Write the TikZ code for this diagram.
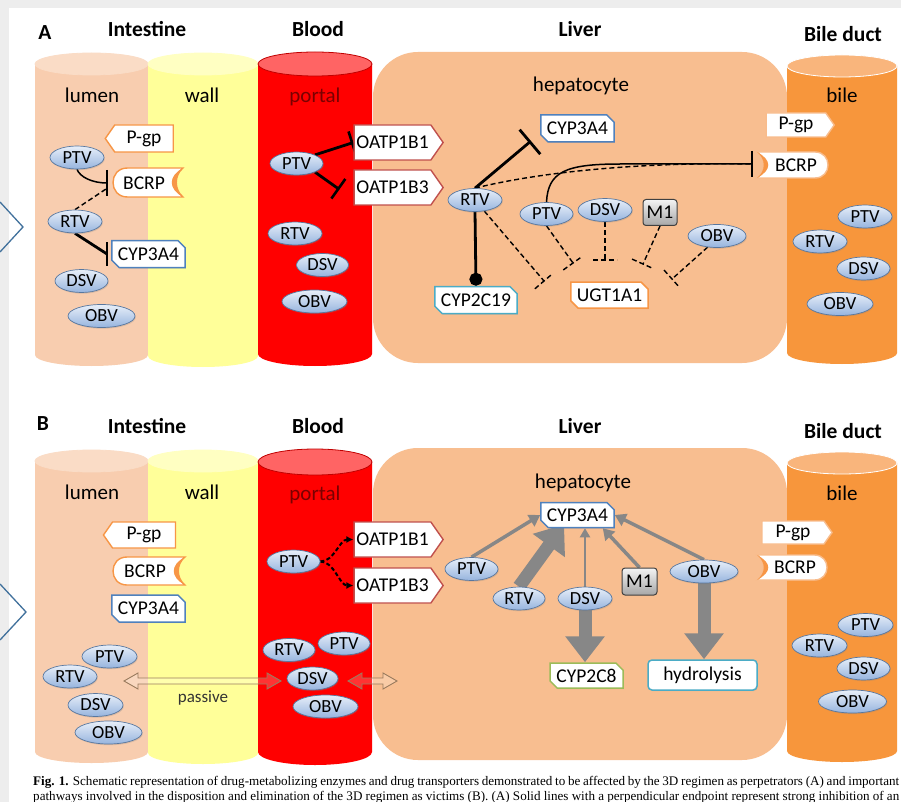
\documentclass[tikz,border=0pt]{standalone}
\usepackage{fontspec}
\setmainfont{Carlito}
\newfontfamily\capfont{Liberation Serif}
\usetikzlibrary{shapes.geometric,shapes.misc,shapes.symbols,arrows.meta,calc,shadows}
\pgfdeclarelayer{back}
\pgfdeclarelayer{links}
\pgfsetlayers{back,links,main}

\definecolor{pagegray}{HTML}{EDEDED}
\definecolor{chevron}{HTML}{41719C}
\definecolor{lumenfill}{HTML}{F8CDAF}
\definecolor{lumentop}{HTML}{FADCC6}
\definecolor{wallfill}{HTML}{FFFF99}
\definecolor{walltop}{HTML}{FFFFC2}
\definecolor{bloodfill}{HTML}{FF0000}
\definecolor{bloodtop}{HTML}{FF6464}
\definecolor{bloodedge}{HTML}{C00000}
\definecolor{liverfill}{HTML}{F8BE90}
\definecolor{bilefill}{HTML}{F7963C}
\definecolor{biletop}{HTML}{F9B57C}
\definecolor{drugtop}{HTML}{E8EFF9}
\definecolor{drugbot}{HTML}{96B4DE}
\definecolor{drugedge}{HTML}{58779F}
\definecolor{cypblue}{HTML}{4F81BD}
\definecolor{cypteal}{HTML}{4BACC6}
\definecolor{cypgreen}{HTML}{9BBB59}
\definecolor{ugtorange}{HTML}{F79646}
\definecolor{oatpred}{HTML}{C0504D}
\definecolor{bileport}{HTML}{F8BC8C}
\definecolor{portaltext}{HTML}{7A0000}
\definecolor{arrowgray}{HTML}{878787}
\definecolor{passivebrown}{HTML}{9A7B5E}
\definecolor{mtop}{HTML}{F4F4F4}
\definecolor{mbot}{HTML}{A6A6A6}
\definecolor{medge}{HTML}{404040}

% cylinder: x-left, x-right, y of top ellipse, y of bottom ellipse, y radius, body, top, top outline
\newcommand\cylinder[8]{%
  \fill[#6] (#1,#3) -- (#1,#4) arc[start angle=180,end angle=0,x radius={(#2-#1)/2},y radius=#5] -- (#2,#3) -- cycle;
  \filldraw[fill=#7,draw=#8,line width=0.8pt] ({(#1+#2)/2},#3) ellipse[x radius={(#2-#1)/2},y radius=#5];
}
% BCRP outline, cup on the right: centre, half width, half height, outline, cup colour
\newcommand\cupright[5]{%
  \filldraw[fill=white,draw=#4,line width=1.4pt]
    ($(#1)+(#2,-#3)$) .. controls +(-9,7) and +(-9,-7) .. ($(#1)+(#2,#3)$)
    -- ($(#1)+({-#2+#3},#3)$) .. controls +({-1.333*#3},0) and +({-1.333*#3},0) .. ($(#1)+({-#2+#3},-#3)$) -- cycle;
  \fill[#5] ($(#1)+(#2,-#3)$) .. controls +(-9,7) and +(-9,-7) .. ($(#1)+(#2,#3)$)
    .. controls +(-15,-8) and +(-15,8) .. cycle;
}
% BCRP outline, cup on the left
\newcommand\cupleft[5]{%
  \filldraw[fill=white,draw=#4,line width=1.4pt]
    ($(#1)+(-#2,-#3)$) .. controls +(9,7) and +(9,-7) .. ($(#1)+(-#2,#3)$)
    -- ($(#1)+({#2-#3},#3)$) .. controls +({1.333*#3},0) and +({1.333*#3},0) .. ($(#1)+({#2-#3},-#3)$) -- cycle;
  \fill[#5] ($(#1)+(-#2,-#3)$) .. controls +(9,7) and +(9,-7) .. ($(#1)+(-#2,#3)$)
    .. controls +(15,-8) and +(15,8) .. cycle;
}
% hollow two-headed arrow between two coordinates on one level
\newcommand\hollowarrow[2]{%
  \draw[passivebrown,line width=0.9pt,fill=white,fill opacity=0.2,line join=miter]
    (#1) -- ++(14,-8) -- ++(0,5) -- ($(#2)+(-14,-3)$) -- ++(0,-5) -- (#2) -- ++(-14,8) -- ++(0,-5)
    -- ($(#1)+(14,3)$) -- ++(0,5) -- cycle;
}
% dashed inhibition bar at #2, across the line coming from #1
\newcommand\dashbar[2]{\draw[dashlink] ($(#2)!12pt!90:(#1)$) -- ($(#2)!12pt!-90:(#1)$);}

\begin{document}
\begin{tikzpicture}[x=1pt,y=-1pt,
  heading/.style={font=\fontsize{21.5}{22}\selectfont\bfseries,inner sep=0pt,text height=14pt,text depth=4pt},
  region/.style={font=\fontsize{21}{22}\selectfont,inner sep=0pt,text height=14pt,text depth=4pt},
  drug/.style={ellipse,draw=drugedge,line width=0.7pt,top color=drugtop,bottom color=drugbot,
    minimum width=54pt,minimum height=23pt,inner sep=0pt,font=\fontsize{18.5}{18.5}\selectfont,
    drop shadow={opacity=0.25,shadow xshift=0.8pt,shadow yshift=-1.2pt}},
  enzyme/.style={chamfered rectangle,chamfered rectangle corners={north east,south west},
    chamfered rectangle xsep=4pt,fill=white,line width=1.5pt,inner xsep=2pt,inner ysep=0pt,
    minimum height=26pt,font=\fontsize{19.5}{19.5}\selectfont,
    drop shadow={opacity=0.2,shadow xshift=0.8pt,shadow yshift=-1pt}},
  roundbox/.style={rectangle,rounded corners=4pt,fill=white,line width=1.5pt,inner sep=0pt,
    font=\fontsize{19.5}{19.5}\selectfont,drop shadow={opacity=0.2,shadow xshift=0.8pt,shadow yshift=-1pt}},
  tport/.style={signal,signal from=nowhere,signal pointer angle=110,fill=white,line width=1.4pt,
    inner xsep=2pt,inner ysep=0pt,font=\fontsize{19.5}{19.5}\selectfont},
  tlabel/.style={inner sep=0pt,font=\fontsize{19.5}{19.5}\selectfont},
  metab/.style={rectangle,rounded corners=3pt,draw=medge,line width=1pt,top color=mtop,bottom color=mbot,
    minimum width=34pt,minimum height=26pt,inner sep=0pt,font=\fontsize{19.5}{19.5}\selectfont},
  thinlink/.style={line width=1.5pt},
  thicklink/.style={line width=2.8pt},
  barline/.style={line width=2.6pt},
  dashlink/.style={line width=1.4pt,dash pattern=on 5pt off 3pt},
  dasharrow/.style={line width=2pt,dash pattern=on 4pt off 2.5pt,-{Latex[length=7pt,width=7pt]}},
  graythin/.style={draw=arrowgray,line width=2pt,-{Triangle[length=9pt,width=10pt]}},
  graymid/.style={draw=arrowgray,line width=3.5pt,-{Triangle[length=11pt,width=13pt]}},
  grayfat/.style={draw=arrowgray,line width=13pt,-{Triangle[length=26pt,width=38pt]}},
  passtext/.style={font=\fontsize{17}{17}\selectfont,text=black!80,inner sep=0pt},
  captext/.style={anchor=base west,inner sep=0pt,font=\capfont\fontsize{13.1}{14}\selectfont}
]
\useasboundingbox (0,0) rectangle (901,802);

% ---------------- page and compartments ----------------
\begin{pgfonlayer}{back}
\fill[white] (0,0) rectangle (901,802);
\fill[pagegray] (0,0) rectangle (901,8);
\fill[pagegray] (0,0) rectangle (9,802);
\draw[chevron,line width=1.3pt] (0,202) -- (23,227) -- (0,252);
\draw[chevron,line width=1.3pt] (0,584) -- (26,612) -- (0,640);

% panel A
\fill[liverfill,rounded corners=45pt] (373,52) rectangle (787,363);
\cylinder{35}{148}{64}{355}{11}{lumenfill}{lumentop}{lumentop}
\cylinder{148}{258}{64}{356}{11}{wallfill}{walltop}{walltop}
\cylinder{258}{372}{64}{354}{12}{bloodfill}{bloodtop}{bloodedge}
\cylinder{787}{897}{66}{353}{11}{bilefill}{biletop}{white}
% panel B
\fill[liverfill,rounded corners=45pt] (373,448) rectangle (787,760);
\cylinder{35}{148}{461}{752}{11}{lumenfill}{lumentop}{lumentop}
\cylinder{148}{258}{461}{753}{11}{wallfill}{walltop}{walltop}
\cylinder{258}{372}{462}{752}{13}{bloodfill}{bloodtop}{bloodedge}
\cylinder{787}{897}{463}{751}{11}{bilefill}{biletop}{white}
\end{pgfonlayer}

% ---------------- titles ----------------
\node[heading] (hA) at (45,35) {A};
\node[heading] (intA) at (147,32) {Intestine};
\node[heading] (bloA) at (318,32) {Blood};
\node[heading] (livA) at (580,32) {Liver};
\node[heading] (bdA) at (843,37) {Bile duct};
\node[region] (lumA) at (92,98) {lumen};
\node[region] (walA) at (202,98) {wall};
\node[region,text=portaltext] (porA) at (315,98) {portal};
\node[region] (hepA) at (581,87) {hepatocyte};
\node[region] (bilA) at (842,98) {bile};

\node[heading] (hB) at (43,425) {B};
\node[heading] (intB) at (147,428) {Intestine};
\node[heading] (bloB) at (318,428) {Blood};
\node[heading] (livB) at (580,428) {Liver};
\node[heading] (bdB) at (843,433) {Bile duct};
\node[region] (lumB) at (92,494) {lumen};
\node[region] (walB) at (202,494) {wall};
\node[region,text=portaltext] (porB) at (315,495) {portal};
\node[region] (hepB) at (583,483) {hepatocyte};
\node[region] (bilB) at (842,495) {bile};

% ---------------- panel A : intestine ----------------
\coordinate (bcrpLAc) at (148,182.5);
\begin{pgfonlayer}{links}\cupright{bcrpLAc}{35}{14.5}{ugtorange}{ugtorange}\end{pgfonlayer}
\node[tlabel] (bcrpLA) at (144,183) {BCRP};
\node[tport,signal to=west,draw=ugtorange,minimum width=68pt,minimum height=27pt] (pgpLA) at (144,138.5) {P-gp};
\node[enzyme,draw=cypblue,minimum width=73pt,minimum height=27pt] (cypLA) at (148.5,254) {CYP3A4};
\node[drug] (ptvLA) at (77,157.5) {PTV};
\node[drug] (rtvLA) at (75,221.5) {RTV};
\node[drug,minimum width=53pt] (dsvLA) at (81.5,281) {DSV};
\node[drug,minimum width=67pt] (obvLA) at (101.5,316) {OBV};

% ---------------- panel A : blood ----------------
\node[tport,signal to=east,draw=oatpred,minimum width=89pt,minimum height=35pt] (oatp1A) at (392.5,142.5) {OATP1B1};
\node[tport,signal to=east,draw=oatpred,minimum width=89pt,minimum height=35pt] (oatp3A) at (392.5,187.5) {OATP1B3};
\node[drug,minimum width=53pt] (ptvBA) at (296.5,163.5) {PTV};
\node[drug] (rtvBA) at (295,233.5) {RTV};
\node[drug,minimum width=52pt] (dsvBA) at (322.5,265) {DSV};
\node[drug,minimum width=65pt] (obvBA) at (314.5,301.5) {OBV};

% ---------------- panel A : liver ----------------
\node[enzyme,draw=cypblue,minimum width=71pt,minimum height=27pt] (cypHA) at (577.5,128.5) {CYP3A4};
\node[enzyme,draw=cypteal,minimum width=80pt,minimum height=27pt] (c19HA) at (476,300) {CYP2C19};
\node[enzyme,draw=ugtorange,minimum width=75pt,minimum height=26pt] (ugtHA) at (609.5,295) {UGT1A1};
\node[drug] (rtvHA) at (475,200) {RTV};
\node[drug,minimum width=53pt] (ptvHA) at (546.5,214) {PTV};
\node[drug] (dsvHA) at (605,210) {DSV};
\node[metab] (m1HA) at (660,212.5) {M1};
\node[drug,minimum width=58pt] (obvHA) at (717,236) {OBV};

% ---------------- panel A : bile duct ----------------
\coordinate (bcrpBiAc) at (792.5,165);
\begin{pgfonlayer}{links}\cupleft{bcrpBiAc}{35.5}{13}{bileport}{ugtorange}\end{pgfonlayer}
\node[tlabel] (bcrpBiA) at (796,165) {BCRP};
\node[tport,signal to=east,draw=bileport,minimum width=68pt,minimum height=24pt] (pgpBiA) at (796,125) {P-gp};
\node[drug] (ptvBiA) at (865,216.5) {PTV};
\node[drug] (rtvBiA) at (820,241.5) {RTV};
\node[drug,minimum width=53pt] (dsvBiA) at (863.5,268.5) {DSV};
\node[drug,minimum width=66pt] (obvBiA) at (840,304) {OBV};

% ---------------- panel A : interactions ----------------
\coordinate (barLA1) at (107,183);
\coordinate (barLA2) at (106,189);
\coordinate (barLA3) at (107,254);
\coordinate (inhHA1) at (531,141);
\coordinate (barBiA) at (752,164);
\coordinate (u1) at (544,281);
\coordinate (u2) at (573,263);
\coordinate (u3) at (605,260);
\coordinate (u4) at (643,264);
\coordinate (u5) at (672,279);
\begin{pgfonlayer}{links}
\draw[thinlink] (ptvLA.south) .. controls (80,177) and (92,183) .. (barLA1);
\draw[dashlink] (rtvLA.north) -- (barLA2);
\draw[barline] ($(barLA1)+(0,-13)$) -- ($(barLA1)+(0,13)$);
\draw[thicklink] (rtvLA.south) -- (barLA3);
\draw[barline] ($(barLA3)+(0,-12)$) -- ($(barLA3)+(0,12)$);

\draw[thicklink,-{Bar[width=24pt,line width=2.6pt]}] (ptvBA.25) -- (oatp1A.west);
\draw[thicklink,-{Bar[width=24pt,line width=2.6pt]}] (ptvBA.-25) -- ($(oatp3A.west)+(-14,2)$);

\draw[thicklink,-{Bar[width=32pt,line width=2.8pt]}] (rtvHA.north) -- (inhHA1);
\draw[thicklink,-{Circle[length=13pt]}] (rtvHA.south) -- (c19HA.north);
\draw[dashlink] (rtvHA.north) .. controls (540,172) and (640,162) .. (barBiA);
\draw[thinlink] (ptvHA.north) .. controls (548,172) and (565,164) .. (620,164) -- (barBiA);
\draw[barline,line width=1.8pt] ($(barBiA)+(0,-13)$) -- ($(barBiA)+(0,13)$);

\draw[dashlink] (rtvHA.-50) -- (u1); \dashbar{rtvHA.-50}{u1}
\draw[dashlink] (ptvHA.south) -- (u2); \dashbar{ptvHA.south}{u2}
\draw[dashlink] (dsvHA.south) -- (u3); \dashbar{dsvHA.south}{u3}
\draw[dashlink] (m1HA.south) -- (u4); \dashbar{m1HA.south}{u4}
\draw[dashlink] (obvHA.-130) -- (u5); \dashbar{obvHA.-130}{u5}
\end{pgfonlayer}

% ---------------- panel B : intestine ----------------
\coordinate (bcrpLBc) at (149,571);
\begin{pgfonlayer}{links}\cupright{bcrpLBc}{36}{14}{ugtorange}{ugtorange}\end{pgfonlayer}
\node[tlabel] (bcrpLB) at (145,571.5) {BCRP};
\node[tport,signal to=west,draw=ugtorange,minimum width=72pt,minimum height=26pt] (pgpLB) at (144,535) {P-gp};
\node[enzyme,draw=cypblue,minimum width=73pt,minimum height=27pt] (cypLB) at (148.5,608.5) {CYP3A4};
\node[drug,minimum width=55pt] (ptvLB) at (109.5,656.5) {PTV};
\node[drug] (rtvLB) at (70,676.5) {RTV};
\node[drug,minimum width=55pt] (dsvLB) at (95.5,705) {DSV};
\node[drug,minimum width=67pt] (obvLB) at (108.5,732.5) {OBV};

% ---------------- panel B : blood ----------------
\node[tport,signal to=east,draw=oatpred,minimum width=89pt,minimum height=35pt] (oatp1B) at (392.5,539.5) {OATP1B1};
\node[tport,signal to=east,draw=oatpred,minimum width=89pt,minimum height=35pt] (oatp3B) at (392.5,585.5) {OATP1B3};
\node[drug,minimum width=53pt] (ptvBB) at (293.5,561.5) {PTV};
\node[drug,minimum width=52pt] (rtvBB) at (289,650) {RTV};
\node[drug,minimum width=52pt] (ptvBB2) at (344,643.5) {PTV};
\node[drug,minimum width=51pt] (dsvBB) at (312.5,678.5) {DSV};
\node[drug,minimum width=65pt] (obvBB) at (325.5,706.5) {OBV};

% ---------------- panel B : liver ----------------
\node[enzyme,draw=cypblue,minimum width=71pt,minimum height=25pt] (cypHB) at (577.5,515) {CYP3A4};
\node[enzyme,draw=cypgreen,minimum width=73pt,minimum height=25pt] (c2c8HB) at (586.5,675.5) {CYP2C8};
\node[roundbox,draw=cypteal,minimum width=109pt,minimum height=30pt] (hydHB) at (702.5,675) {hydrolysis};
\node[drug,minimum width=53pt] (ptvHB) at (471.5,569) {PTV};
\node[drug,minimum width=52pt] (rtvHB) at (519,598.5) {RTV};
\node[drug] (dsvHB) at (585,598.5) {DSV};
\node[metab,minimum width=35pt,minimum height=27pt] (m1HB) at (639.5,581.5) {M1};
\node[drug,minimum width=68pt] (obvHB) at (704,571.5) {OBV};

% ---------------- panel B : bile duct ----------------
\coordinate (bcrpBiBc) at (792,567.5);
\begin{pgfonlayer}{links}\cupleft{bcrpBiBc}{35}{12.5}{bileport}{ugtorange}\end{pgfonlayer}
\node[tlabel] (bcrpBiB) at (795,567.5) {BCRP};
\node[tport,signal to=east,draw=bileport,minimum width=70pt,minimum height=23pt] (pgpBiB) at (793,532.5) {P-gp};
\node[drug,minimum width=55pt] (ptvBiB) at (865.5,625) {PTV};
\node[drug,minimum width=55pt] (rtvBiB) at (819.5,645.5) {RTV};
\node[drug,minimum width=53pt] (dsvBiB) at (863.5,668.5) {DSV};
\node[drug,minimum width=68pt] (obvBiB) at (852.5,701.5) {OBV};

% ---------------- panel B : pathways ----------------
\coordinate (passL) at (124,681);
\coordinate (passR) at (281,681);
\coordinate (passL2) at (348,681);
\coordinate (passR2) at (397,681);
\node[passtext] (passive) at (203,698) {passive};
\begin{pgfonlayer}{links}
\hollowarrow{passL}{passR}
\hollowarrow{passL2}{passR2}
\draw[dasharrow] (ptvBB.east) .. controls +(14,0) and +(-14,0) .. (oatp1B.west);
\draw[dasharrow] (ptvBB.east) .. controls +(14,0) and +(-14,0) .. (oatp3B.west);

\draw[graymid] (ptvHB.north) -- (cypHB.west);
\draw[grayfat] (rtvHB.north) -- ($(cypHB.south west)+(20,0)$);
\draw[graythin] (dsvHB.north) -- (dsvHB.north |- cypHB.south);
\draw[graymid] (m1HB.north) -- ($(cypHB.south east)+(-12,0)$);
\draw[graymid] (obvHB.north) -- (cypHB.east);
\draw[grayfat] (dsvHB.south) -- (dsvHB.south |- c2c8HB.north);
\draw[grayfat] (obvHB.south) -- (obvHB.south |- hydHB.north);
\end{pgfonlayer}

% ---------------- caption ----------------
\node[captext] (cap1) at (33,785) {\makebox[866pt][s]{\textbf{Fig. 1.} Schematic representation of drug-metabolizing enzymes and drug transporters demonstrated to be affected by the 3D regimen as perpetrators (A) and important}};
\node[captext] (cap2) at (33,800) {\makebox[866pt][s]{pathways involved in the disposition and elimination of the 3D regimen as victims (B). (A) Solid lines with a perpendicular endpoint represent strong inhibition of an}};
\end{tikzpicture}
\end{document}
